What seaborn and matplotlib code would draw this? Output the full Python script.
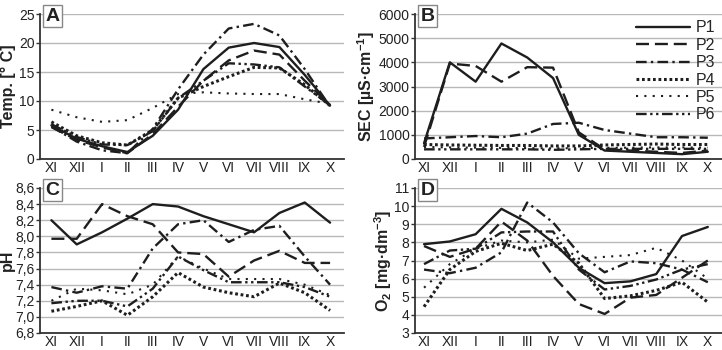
import matplotlib
matplotlib.use("Agg")
import matplotlib.pyplot as plt
from matplotlib.ticker import FuncFormatter, MultipleLocator
import seaborn as sns
import pandas as pd
import numpy as np

months = ["XI", "XII", "I", "II", "III", "IV", "V", "VI", "VII", "VIII", "IX", "X"]
series = ["P1", "P2", "P3", "P4", "P5", "P6"]

temp_P1 = [5.8, 3.5, 2.2, 1.2, 4.0, 8.5, 15.5, 19.2, 20.0, 19.3, 14.5, 9.2]
temp_P2 = [5.5, 3.3, 2.0, 1.0, 4.3, 9.0, 13.5, 17.0, 18.7, 18.0, 13.5, 9.3]
temp_P3 = [5.6, 3.0, 1.5, 1.0, 5.2, 12.0, 18.0, 22.5, 23.3, 21.3, 15.5, 9.0]
temp_P4 = [6.4, 4.0, 2.8, 2.4, 5.0, 10.5, 12.5, 14.2, 15.8, 15.7, 12.8, 9.2]
temp_P5 = [8.5, 7.2, 6.4, 6.7, 8.8, 11.2, 11.5, 11.3, 11.2, 11.2, 10.3, 9.5]
temp_P6 = [6.0, 3.8, 2.5, 2.4, 4.8, 10.5, 13.5, 16.5, 16.3, 15.8, 12.5, 9.3]

sec_P1 = [650, 4000, 3200, 4780, 4200, 3350, 1000, 350, 300, 250, 200, 300]
sec_P2 = [500, 3950, 3850, 3200, 3800, 3780, 1100, 400, 350, 300, 250, 350]
sec_P3 = [850, 900, 950, 900, 1050, 1450, 1500, 1200, 1050, 900, 900, 880]
sec_P4 = [600, 580, 570, 560, 560, 540, 540, 580, 600, 620, 600, 600]
sec_P5 = [500, 480, 470, 460, 450, 440, 450, 460, 470, 480, 480, 470]
sec_P6 = [400, 400, 400, 400, 400, 380, 400, 420, 420, 420, 420, 420]

ph_P1 = [8.20, 7.90, 8.05, 8.22, 8.40, 8.37, 8.25, 8.15, 8.05, 8.29, 8.42, 8.17]
ph_P2 = [7.97, 7.97, 8.40, 8.25, 8.15, 7.80, 7.78, 7.50, 7.70, 7.82, 7.67, 7.67]
ph_P3 = [7.37, 7.30, 7.38, 7.35, 7.85, 8.15, 8.20, 7.93, 8.08, 8.13, 7.75, 7.40]
ph_P4 = [7.07, 7.13, 7.20, 7.02, 7.25, 7.55, 7.37, 7.30, 7.25, 7.42, 7.30, 7.08]
ph_P5 = [7.20, 7.35, 7.33, 7.28, 7.40, 7.75, 7.60, 7.47, 7.47, 7.47, 7.40, 7.27]
ph_P6 = [7.17, 7.20, 7.20, 7.13, 7.35, 7.75, 7.58, 7.43, 7.43, 7.43, 7.37, 7.25]

o2_P1 = [7.9, 8.05, 8.45, 9.85, 9.1, 8.0, 6.6, 5.75, 5.85, 6.25, 8.35, 8.85]
o2_P2 = [7.8, 7.2, 7.65, 9.15, 8.1, 6.15, 4.6, 4.05, 4.95, 5.1, 6.05, 7.0]
o2_P3 = [6.5, 6.3, 6.6, 7.45, 10.2, 9.1, 7.4, 6.35, 6.95, 6.85, 6.5, 5.8]
o2_P4 = [4.45, 6.5, 7.5, 7.95, 7.55, 7.9, 6.85, 4.9, 5.05, 5.35, 5.8, 4.7]
o2_P5 = [5.5, 6.8, 7.65, 8.1, 8.0, 8.15, 7.1, 7.2, 7.3, 7.7, 7.0, 6.0]
o2_P6 = [6.8, 7.55, 7.65, 8.55, 8.6, 8.6, 6.5, 5.4, 5.6, 5.95, 6.5, 6.8]

panels = [
    ("A", "Temp. [° C]", [temp_P1, temp_P2, temp_P3, temp_P4, temp_P5, temp_P6], (0, 25), 5),
    ("B", "SEC [µS·cm$^{-1}$]", [sec_P1, sec_P2, sec_P3, sec_P4, sec_P5, sec_P6], (0, 6000), 1000),
    ("C", "pH", [ph_P1, ph_P2, ph_P3, ph_P4, ph_P5, ph_P6], (6.8, 8.6), 0.2),
    ("D", "O$_2$ [mg·dm$^{-3}$]", [o2_P1, o2_P2, o2_P3, o2_P4, o2_P5, o2_P6], (3, 11), 1),
]

sns.set_theme(style="white")
plt.rcParams["font.family"] = ["Liberation Sans", "DejaVu Sans"]
plt.rcParams["mathtext.default"] = "regular"

styles = {
    "P1": dict(linestyle="-", lw=1.7),
    "P2": dict(linestyle=(0, (5.5, 2.5)), lw=1.7),
    "P3": dict(linestyle=(0, (4.5, 1.8, 1.0, 1.8)), lw=1.7),
    "P4": dict(linestyle=(0, (0.9, 0.9)), lw=2.2),
    "P5": dict(linestyle=(0, (1.0, 3.0)), lw=1.5),
    "P6": dict(linestyle=(0, (4.5, 1.5, 1.0, 1.5, 1.0, 1.5)), lw=1.7),
}
color = "#1e1e1e"

fig = plt.figure(figsize=(7.22, 3.5), dpi=100)
W, H = 722.0, 350.0
rects = {
    "A": (40, 14, 344, 159),
    "B": (415, 14, 722, 159),
    "C": (40, 188, 344, 333),
    "D": (415, 188, 722, 333),
}
label_x = {"A": -0.079, "B": -0.124, "C": -0.082, "D": -0.068}

x = np.arange(len(months))
for letter, ylabel, data, ylim, step in panels:
    l, t, r, b = rects[letter]
    ax = fig.add_axes([l / W, 1 - b / H, (r - l) / W, (b - t) / H])
    for name, vals in zip(series, data):
        df = pd.DataFrame({"month": x, "value": vals})
        st = styles[name]
        sns.lineplot(data=df, x="month", y="value", ax=ax, color=color,
                     linestyle=st["linestyle"], linewidth=st["lw"], label=name,
                     legend=False)
    ax.set_ylim(*ylim)
    ax.set_xlim(-0.45 if letter in "AC" else -0.35, 11.55)
    ax.yaxis.set_major_locator(MultipleLocator(step))
    ax.set_xticks(x)
    ax.set_xticklabels(months)
    ax.grid(axis="y", color="#b8b8b8", lw=1.0)
    ax.set_axisbelow(True)
    for s in ["top", "right"]:
        ax.spines[s].set_visible(False)
    for s in ["left", "bottom"]:
        ax.spines[s].set_color("#333333")
        ax.spines[s].set_linewidth(1.3)
    ax.tick_params(axis="y", which="major", left=True, length=3, width=1,
                   color="#333333", labelsize=10, pad=1, labelcolor="#222222")
    ax.tick_params(axis="x", which="major", bottom=False, length=0, labelsize=10, pad=1.5,
                   labelcolor="#222222")
    ax.set_xlabel("")
    ax.set_ylabel(ylabel, fontsize=11.5, fontweight="bold", color="#222222")
    ax.yaxis.set_label_coords(label_x[letter], 0.5)
    if letter == "C":
        ax.yaxis.set_major_formatter(FuncFormatter(lambda v, p: f"{v:.1f}".replace(".", ",")))
    ax.text(0.018, 0.985, letter, transform=ax.transAxes, ha="left", va="center",
            fontsize=14, fontweight="bold", color="#222222",
            bbox=dict(boxstyle="square,pad=0.12", fc="white", ec="#888888", lw=1.0))
    if letter == "B":
        ax.legend(loc="upper right", frameon=False, fontsize=11.5, handlelength=3.4,
                  labelspacing=0.15, borderaxespad=0.0, handletextpad=0.35,
                  bbox_to_anchor=(1.0, 1.0))

fig.savefig("out.png", dpi=100)
